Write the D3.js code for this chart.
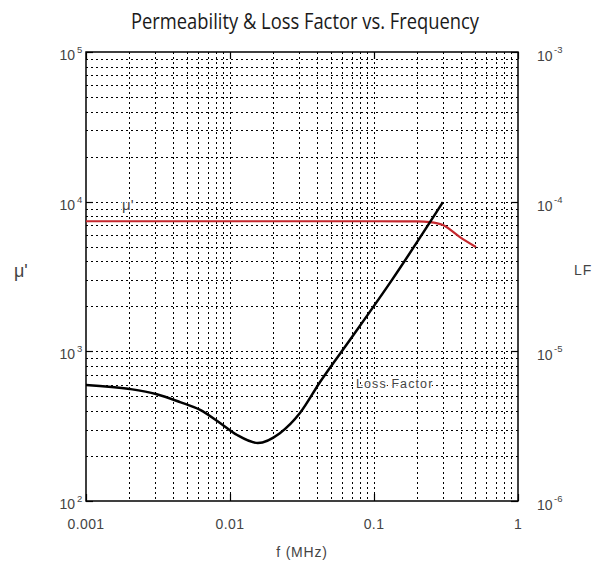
<!DOCTYPE html>
<html><head><meta charset="utf-8">
<script src="https://cdn.jsdelivr.net/npm/d3@7"></script>
<style>
html,body{margin:0;padding:0;background:#fff;}
svg{display:block;}
</style></head>
<body>
<script>
// ---- data ----
const xTickLabels = ["0.001", "0.01", "0.1", "1"];
const xTickValues = [0.001, 0.01, 0.1, 1];
const yLeftTickValues = [100, 1000, 10000, 100000];
const yLeftExponents = ["2", "3", "4", "5"];
const yRightTickValues = [1e-6, 1e-5, 1e-4, 1e-3];
const yRightExponents = ["-6", "-5", "-4", "-3"];

const freqMu = [0.001, 0.01, 0.1, 0.2, 0.245, 0.301, 0.395, 0.51];
const muPrime = [7400, 7400, 7400, 7380, 7300, 6980, 5800, 4980];

const freqLF = [0.001, 0.00202, 0.00306, 0.0045, 0.0062, 0.00853, 0.0112, 0.0156, 0.0222, 0.0306, 0.0422, 0.068, 0.133, 0.301];
const lossFactor = [5.96e-6, 5.6e-6, 5.19e-6, 4.58e-6, 4.06e-6, 3.32e-6, 2.76e-6, 2.44e-6, 2.84e-6, 3.87e-6, 6.24e-6, 1.19e-5, 2.99e-5, 9.93e-5];

// ---- layout ----
const W = 608, H = 565;
const L = 86, R = 518, T = 52, B = 501;
const labelFont = "'Liberation Sans', Arial, sans-serif";
const labelColor = "#444";

const svg = d3.select("body").append("svg").attr("width", W).attr("height", H);

const x = d3.scaleLog().domain([0.001, 1]).range([L, R]);
const yL = d3.scaleLog().domain([100, 100000]).range([B, T]);
const yR = d3.scaleLog().domain([1e-6, 1e-3]).range([B, T]);

// grid
const xGrid = [];
[0.001, 0.01, 0.1].forEach(d => { for (let k = 1; k <= 9; k++) xGrid.push(d * k); });
const yGrid = [];
[100, 1000, 10000].forEach(d => { for (let k = 1; k <= 9; k++) yGrid.push(d * k); });

const g = svg.append("g");
g.selectAll("line.vg").data(xGrid.filter(v => v > 0.001)).enter().append("line")
  .attr("x1", d => Math.round(x(d)) + 0.5).attr("x2", d => Math.round(x(d)) + 0.5)
  .attr("y1", T).attr("y2", B)
  .attr("stroke", "#000").attr("stroke-width", 1).attr("stroke-dasharray", "2,3");
g.selectAll("line.hg").data(yGrid.filter(v => v > 100)).enter().append("line")
  .attr("y1", d => Math.round(yL(d)) + 0.5).attr("y2", d => Math.round(yL(d)) + 0.5)
  .attr("x1", L).attr("x2", R)
  .attr("stroke", "#000").attr("stroke-width", 1).attr("stroke-dasharray", "2,3");

// inward major ticks
const tickLen = 7;
yLeftTickValues.forEach(v => {
  const yy = Math.round(yL(v)) + 0.5;
  g.append("line").attr("x1", L).attr("x2", L + tickLen).attr("y1", yy).attr("y2", yy).attr("stroke", "#000").attr("stroke-width", 1.2);
  g.append("line").attr("x1", R - tickLen).attr("x2", R).attr("y1", yy).attr("y2", yy).attr("stroke", "#000").attr("stroke-width", 1.2);
});
xTickValues.forEach(v => {
  const xx = Math.round(x(v)) + 0.5;
  g.append("line").attr("x1", xx).attr("x2", xx).attr("y1", B).attr("y2", B - tickLen).attr("stroke", "#000").attr("stroke-width", 1.2);
  g.append("line").attr("x1", xx).attr("x2", xx).attr("y1", T).attr("y2", T + tickLen).attr("stroke", "#000").attr("stroke-width", 1.2);
});

// frame
svg.append("rect").attr("x", L).attr("y", T).attr("width", R - L).attr("height", B - T)
  .attr("fill", "none").attr("stroke", "#000").attr("stroke-width", 1.5);

// curves
const muLine = d3.line().x(d => x(d[0])).y(d => yL(d[1])).curve(d3.curveMonotoneX);
svg.append("path").datum(freqMu.map((f, i) => [f, muPrime[i]]))
  .attr("d", muLine).attr("fill", "none").attr("stroke", "#c5282e").attr("stroke-width", 2.2);

const lfLine = d3.line().x(d => x(d[0])).y(d => yR(d[1])).curve(d3.curveMonotoneX);
svg.append("path").datum(freqLF.map((f, i) => [f, lossFactor[i]]))
  .attr("d", lfLine).attr("fill", "none").attr("stroke", "#000").attr("stroke-width", 2.5);

// x tick labels
svg.selectAll("text.xt").data(xTickValues).enter().append("text")
  .attr("x", d => x(d)).attr("y", 529)
  .attr("text-anchor", "middle").attr("font-family", labelFont).attr("font-size", 14)
  .attr("letter-spacing", 0.4).attr("fill", labelColor)
  .text((d, i) => xTickLabels[i]);

// left y tick labels
yLeftTickValues.forEach((v, i) => {
  svg.append("text").attr("x", 75).attr("y", yL(v) + 8)
    .attr("text-anchor", "end").attr("font-family", labelFont).attr("font-size", 14)
    .attr("fill", labelColor).text("10");
  svg.append("text").attr("x", 77).attr("y", yL(v) + 1)
    .attr("font-family", labelFont).attr("font-size", 9.5).attr("fill", labelColor)
    .text(yLeftExponents[i]);
});

// right y tick labels
yRightTickValues.forEach((v, i) => {
  svg.append("text").attr("x", 537).attr("y", yR(v) + 9)
    .attr("font-family", labelFont).attr("font-size", 14).attr("fill", labelColor)
    .text("10");
  svg.append("text").attr("x", 554).attr("y", yR(v) + 1)
    .attr("font-family", labelFont).attr("font-size", 9.5).attr("fill", labelColor)
    .text(yRightExponents[i]);
});

// axis titles
svg.append("text").attr("x", 302).attr("y", 557).attr("text-anchor", "middle")
  .attr("font-family", labelFont).attr("font-size", 14).attr("letter-spacing", 0.8)
  .attr("fill", labelColor).text("f (MHz)");
svg.append("text").attr("x", 14).attr("y", 277)
  .attr("font-family", labelFont).attr("font-size", 18).attr("fill", labelColor).text("μ'");
svg.append("text").attr("x", 574).attr("y", 275)
  .attr("font-family", labelFont).attr("font-size", 14).attr("letter-spacing", 1)
  .attr("fill", labelColor).text("LF");

// in-plot labels
svg.append("text").attr("x", 122).attr("y", 210)
  .attr("font-family", labelFont).attr("font-size", 15).attr("fill", labelColor)
  .style("paint-order", "stroke").attr("stroke", "#fff").attr("stroke-width", 3)
  .text("μ'");
svg.append("text").attr("x", 356).attr("y", 388)
  .attr("font-family", labelFont).attr("font-size", 12.5).attr("letter-spacing", 1.1)
  .style("paint-order", "stroke").attr("stroke", "#fff").attr("stroke-width", 3)
  .attr("fill", labelColor).text("Loss Factor");

// title
svg.append("text").attr("x", 305).attr("y", 29).attr("text-anchor", "middle")
  .attr("font-family", "'Open Sans', 'Noto Sans', sans-serif").attr("font-size", 22)
  .attr("textLength", 348).attr("lengthAdjust", "spacingAndGlyphs")
  .attr("fill", "#1a1a1a").text("Permeability & Loss Factor vs. Frequency");
</script>
</body></html>
